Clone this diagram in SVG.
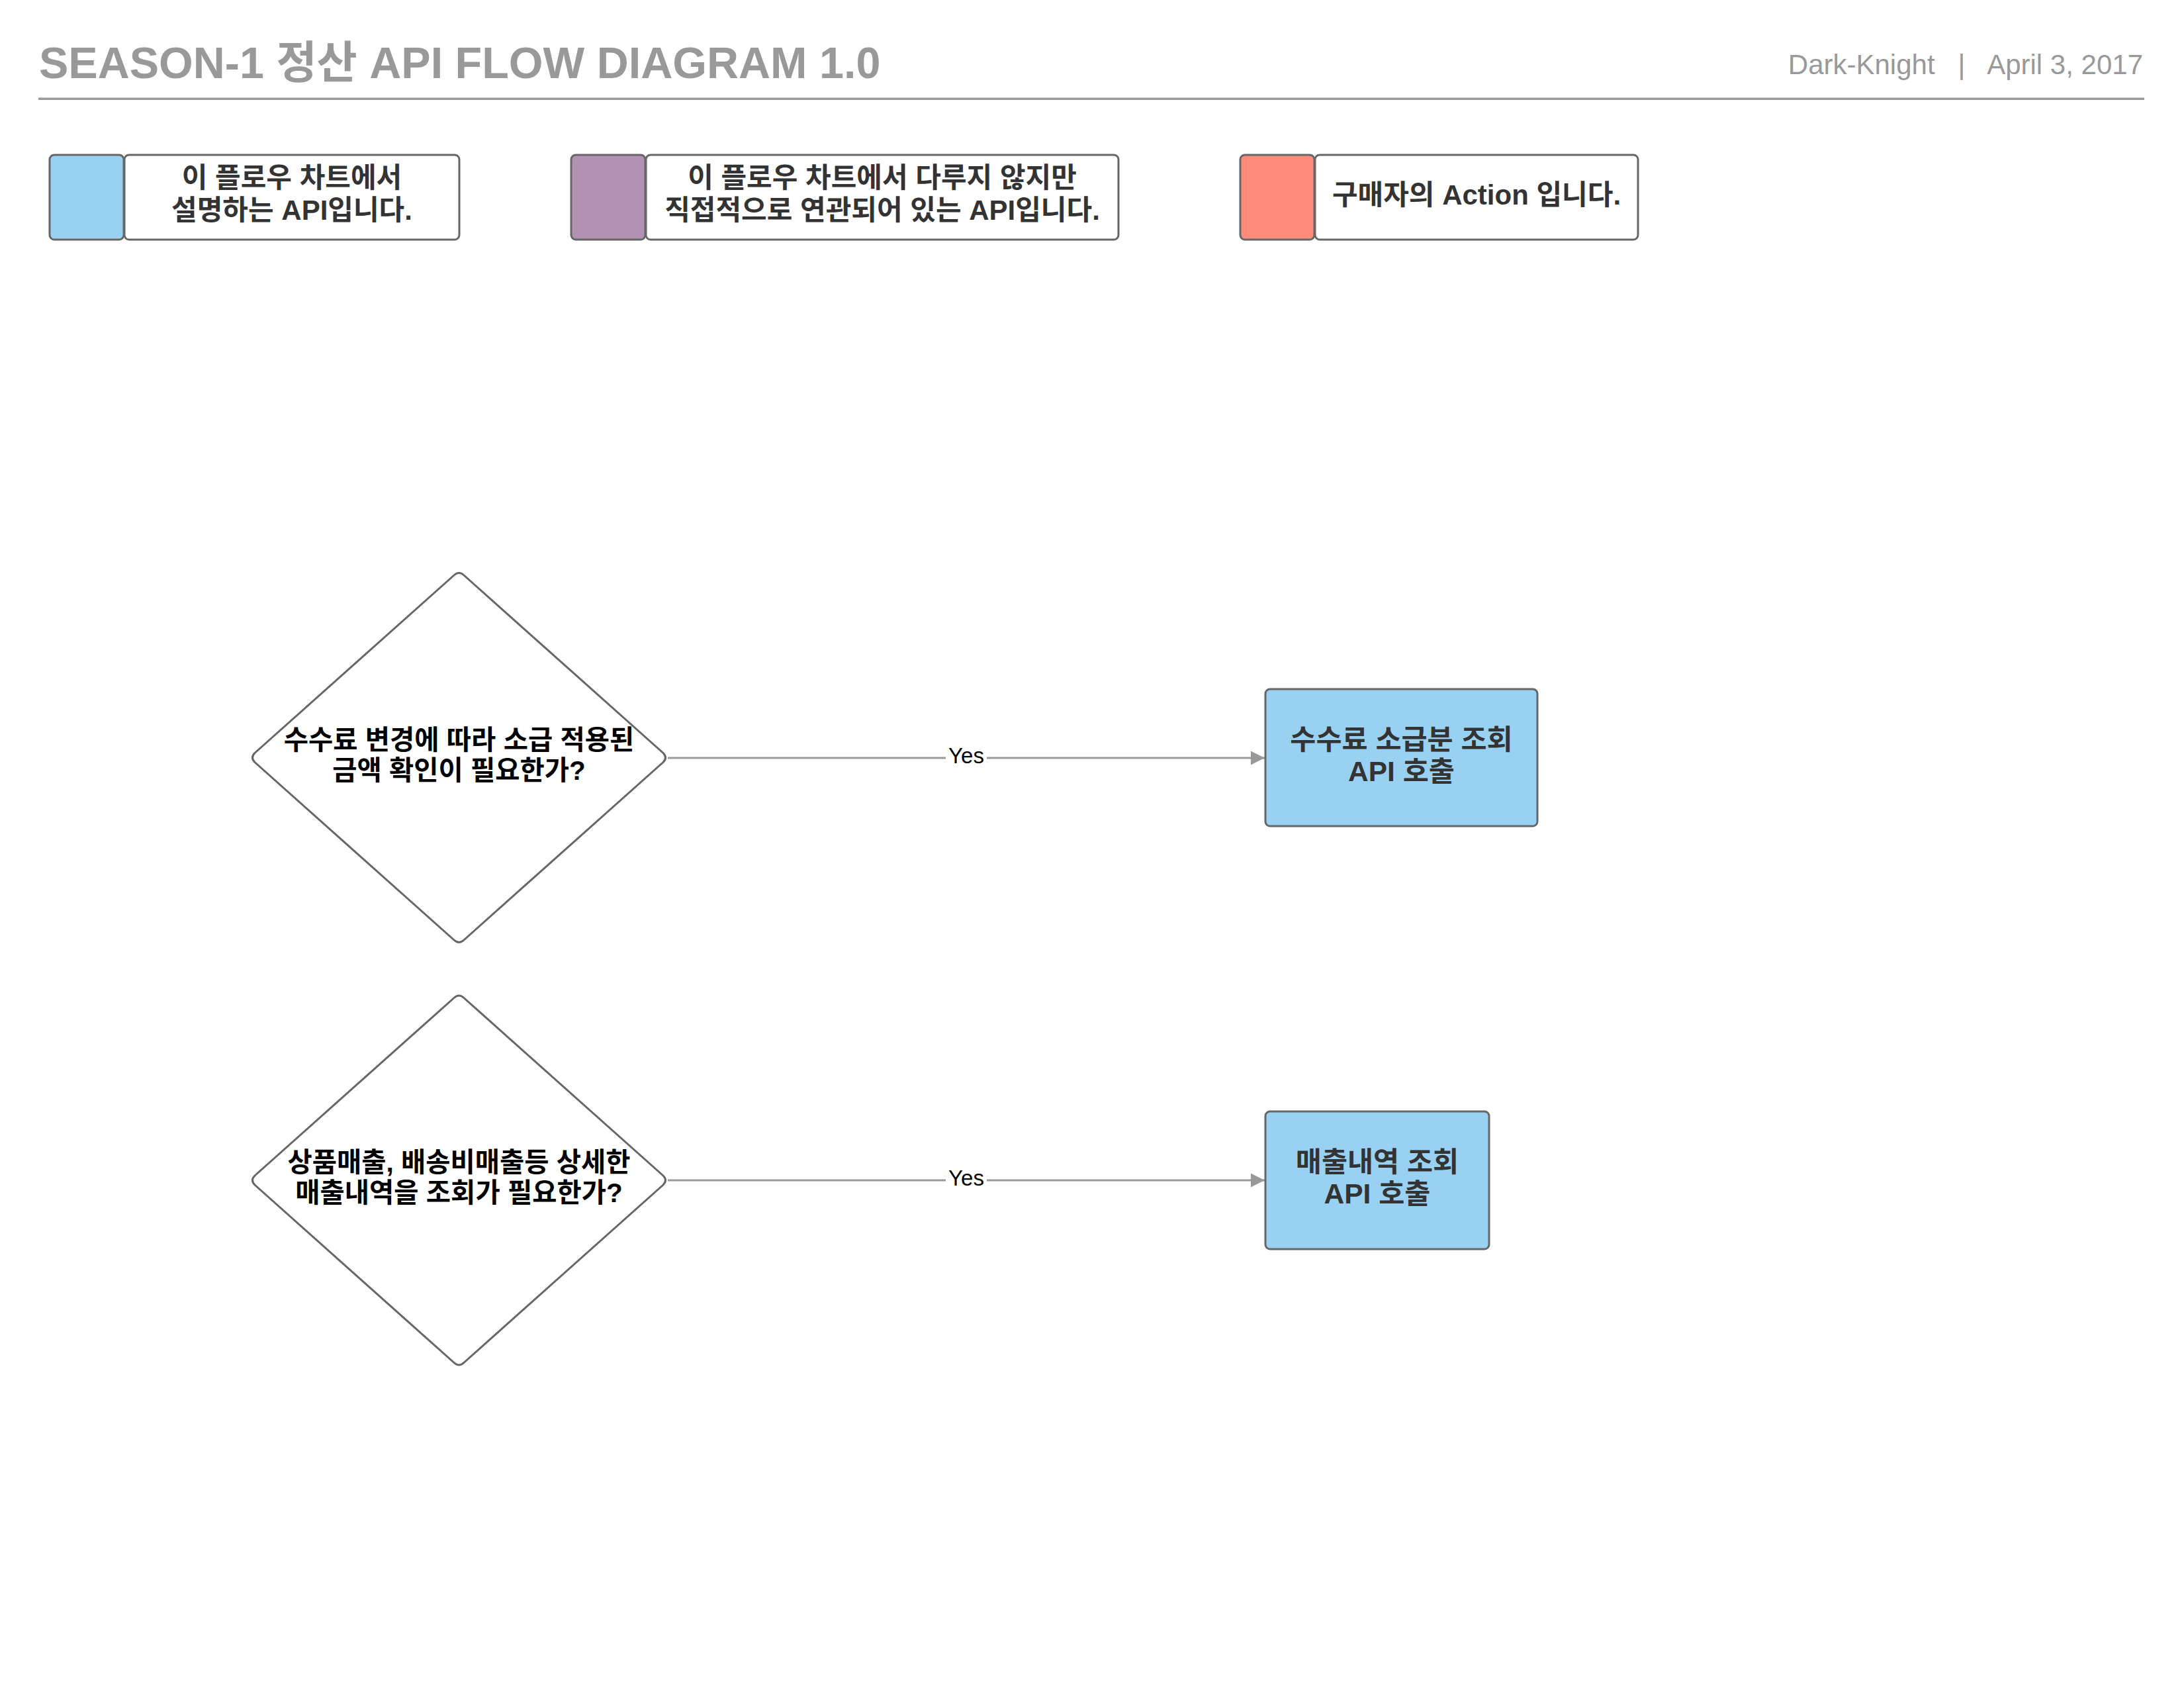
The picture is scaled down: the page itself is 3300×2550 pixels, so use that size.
<svg xmlns="http://www.w3.org/2000/svg" width="3300" height="2550" viewBox="0 0 3300 2550">
<style>
.hdr{font-family:"Liberation Sans","Noto Sans CJK KR",sans-serif;fill:#999999}
.t{font-family:"Liberation Sans","Noto Sans CJK KR",sans-serif;font-weight:bold;text-anchor:middle}
.lg{font-size:42px;fill:#333333}
.nd{font-size:40.5px;fill:#000000}
.bx{font-size:42.5px;fill:#333333}
.box{stroke:#666666;stroke-width:3}
.lbl{font-family:"Liberation Sans",sans-serif;font-size:33px;fill:#000000;text-anchor:middle}
.edge{stroke:#999999;stroke-width:3;fill:none}
</style>
<defs>
<marker id="arr" viewBox="0 0 10 10" refX="10" refY="5" markerWidth="9.5" markerHeight="7" markerUnits="strokeWidth" orient="auto">
<path d="M0,0 L10,5 L0,10 z" fill="#999999"/>
</marker>
</defs>
<rect width="3300" height="2550" fill="#ffffff"/>
<g id="header">
<text class="hdr" x="59" y="118" font-size="66.5" font-weight="bold">SEASON-1 정산 API FLOW DIAGRAM 1.0</text>
<text class="hdr" x="3238" y="112" font-size="42" text-anchor="end" xml:space="preserve">Dark-Knight   |   April 3, 2017</text>
<rect x="58" y="147.5" width="3182" height="3.5" fill="#999999"/>
</g>
<g id="legend-api">
<rect class="box" x="75" y="234" width="112" height="128" rx="7" fill="#99d1f3"/>
<rect class="box" x="188" y="234" width="506" height="128" rx="7" fill="#ffffff"/>
<text class="t lg" x="441" y="283">이 플로우 차트에서</text>
<text class="t lg" x="441" y="332">설명하는 API입니다.</text>
</g>
<g id="legend-related">
<rect class="box" x="863" y="234" width="112" height="128" rx="7" fill="#b291b5"/>
<rect class="box" x="976" y="234" width="714" height="128" rx="7" fill="#ffffff"/>
<text class="t lg" x="1333" y="283">이 플로우 차트에서 다루지 않지만</text>
<text class="t lg" x="1333" y="332">직접적으로 연관되어 있는 API입니다.</text>
</g>
<g id="legend-action">
<rect class="box" x="1874" y="234" width="112" height="128" rx="7" fill="#ff8b7b"/>
<rect class="box" x="1987" y="234" width="488" height="128" rx="7" fill="#ffffff"/>
<text class="t lg" x="2231" y="309">구매자의 Action 입니다.</text>
</g>
<g id="connectors">
<line class="edge" x1="1009" y1="1145" x2="1911" y2="1145" marker-end="url(#arr)"/>
<rect x="1429" y="1128" width="62" height="32" fill="#ffffff"/>
<text class="lbl" x="1460" y="1153">Yes</text>
<line class="edge" x1="1009" y1="1783" x2="1911" y2="1783" marker-end="url(#arr)"/>
<rect x="1429" y="1766" width="62" height="32" fill="#ffffff"/>
<text class="lbl" x="1460" y="1791">Yes</text>
</g>
<g id="decision-1">
<path class="box" d="M686,869 Q693.5,862 701,869 L1002,1137.5 Q1009,1144.5 1002,1151.5 L701,1420 Q693.5,1427 686,1420 L385,1151.5 Q378,1144.5 385,1137.5 Z" fill="#ffffff"/>
<text class="t nd" x="693.5" y="1132">수수료 변경에 따라 소급 적용된</text>
<text class="t nd" x="693.5" y="1178">금액 확인이 필요한가?</text>
</g>
<g id="decision-2">
<path class="box" d="M686,1507.5 Q693.5,1500.5 701,1507.5 L1002,1776 Q1009,1783 1002,1790 L701,2058.5 Q693.5,2065.5 686,2058.5 L385,1790 Q378,1783 385,1776 Z" fill="#ffffff"/>
<text class="t nd" x="693.5" y="1770">상품매출, 배송비매출등 상세한</text>
<text class="t nd" x="693.5" y="1816">매출내역을 조회가 필요한가?</text>
</g>
<g id="api-fee">
<rect class="box" x="1912" y="1041" width="411" height="207" rx="7" fill="#99d1f3"/>
<text class="t bx" x="2117.5" y="1132">수수료 소급분 조회</text>
<text class="t bx" x="2117.5" y="1180">API 호출</text>
</g>
<g id="api-sales">
<rect class="box" x="1912" y="1679" width="338" height="208" rx="7" fill="#99d1f3"/>
<text class="t bx" x="2081" y="1770">매출내역 조회</text>
<text class="t bx" x="2081" y="1818">API 호출</text>
</g>
</svg>
